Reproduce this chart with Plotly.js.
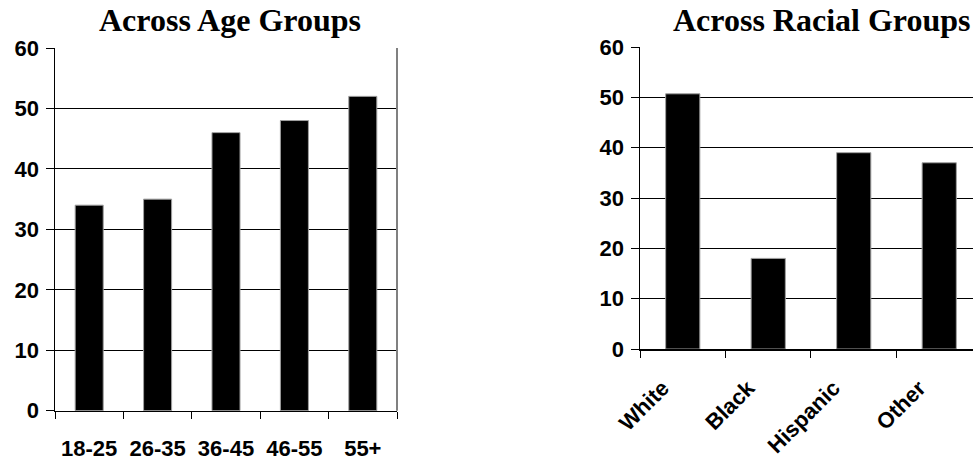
<!DOCTYPE html>
<html>
<head>
<meta charset="utf-8">
<script src="https://cdn.plot.ly/plotly-3.0.1.min.js"></script>
<style>html,body{margin:0;padding:0;background:#fff;overflow:hidden;}#chart{width:973px;height:462px;}</style>
</head>
<body>
<div id="chart"></div>
<script>
var ageGroups = ["18-25", "26-35", "36-45", "46-55", "55+"];
var ageValues = [34, 35, 46, 48, 52];
var raceGroups = ["White", "Black", "Hispanic", "Other"];
var raceValues = [50.7, 18, 39, 37];
var ageTitle = "Across Age Groups";
var raceTitle = "Across Racial Groups";
var yTicks = [0, 10, 20, 30, 40, 50, 60];

var W = 973, H = 462;
var sans = "Liberation Sans, Arial, sans-serif";
var serif = "Liberation Serif, Times New Roman, serif";

var traces = [
  {type: "bar", x: ageGroups, y: ageValues, xaxis: "x", yaxis: "y", width: 0.41,
   marker: {color: "#000", line: {color: "#a0a0a0", width: 1}}, hoverinfo: "none"},
  {type: "bar", x: raceGroups, y: raceValues, xaxis: "x2", yaxis: "y2", width: 0.4,
   marker: {color: "#000", line: {color: "#a0a0a0", width: 1}}, hoverinfo: "none"}
];

function yax(domain, anchor) {
  return {domain: domain, anchor: anchor, range: [0, 60], tickvals: yTicks, ticktext: yTicks.map(String),
    showgrid: true, gridcolor: "#000", gridwidth: 1, zeroline: false,
    showline: true, linecolor: "#000", linewidth: 1.5,
    ticks: "outside", ticklen: 8, tickcolor: "#000", tickwidth: 1,
    tickfont: {family: sans, size: 22, color: "#000", weight: "bold"}, ticklabelstandoff: 2, fixedrange: true};
}
function xax(domain, anchor, range, angle, standoff, shift) {
  return {domain: domain, anchor: anchor, type: "category", range: range,
    showgrid: false, zeroline: false, showline: true, linecolor: "#000", linewidth: 1.5,
    ticks: "outside", tickson: "boundaries", ticklen: 7, tickcolor: "#000", tickwidth: 1,
    tickangle: angle, ticklabelstandoff: standoff, ticklabelshift: shift,
    tickfont: {family: sans, size: 22, color: "#000", weight: "bold"}, fixedrange: true};
}

var layout = {
  width: W, height: H, margin: {l: 0, r: 0, t: 0, b: 0},
  paper_bgcolor: "#fff", plot_bgcolor: "#fff", showlegend: false,
  xaxis: xax([55 / W, 397 / W], "y", [-0.5, 4.5], 0, 17, 0),
  yaxis: yax([1 - 410.7 / H, 1 - 48 / H], "x"),
  xaxis2: xax([640 / W, 1], "y2", [-0.5, 3.395], -45, 16, -20),
  yaxis2: yax([1 - 349 / H, 1 - 47 / H], "x2"),
  shapes: [
    {type: "line", xref: "x domain", yref: "y domain", x0: 1, x1: 1, y0: 0, y1: 1, line: {color: "#808080", width: 2}},
  ],
  annotations: [
    {text: ageTitle, xref: "paper", yref: "paper", x: 230 / W, y: 1 - 20 / H, xanchor: "center", yanchor: "middle",
     showarrow: false, font: {family: serif, size: 32, color: "#000", weight: "bold"}},
    {text: raceTitle, xref: "paper", yref: "paper", x: 822 / W, y: 1 - 20 / H, xanchor: "center", yanchor: "middle",
     showarrow: false, font: {family: serif, size: 32, color: "#000", weight: "bold"}}
  ]
};

Plotly.newPlot("chart", traces, layout, {staticPlot: true, displayModeBar: false});
</script>
</body>
</html>
